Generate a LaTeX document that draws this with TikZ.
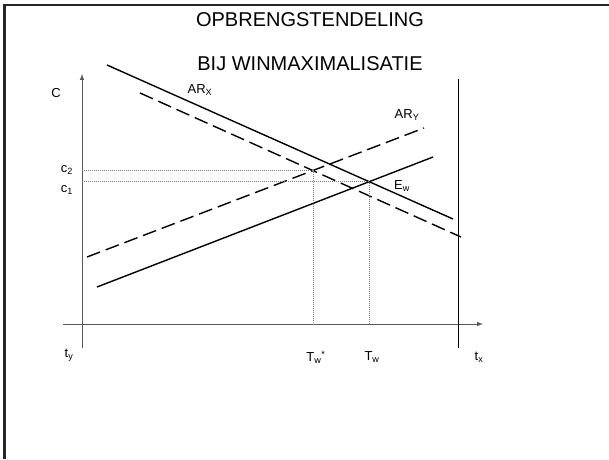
\documentclass[tikz,border=0pt]{standalone}
\usepackage{fontspec}
\setmainfont{Liberation Sans}
\begin{document}
\begin{tikzpicture}[
  x=1pt, y=-1pt,
  ttl/.style={font=\fontsize{20}{22}\selectfont, inner sep=0pt},
  lbl/.style={font=\fontsize{13}{15}\selectfont, inner sep=0pt},
  axis/.style={-latex, gray!70!black, line width=1pt},
  curve/.style={black, line width=1.4pt},
  dcurve/.style={black, line width=1.4pt, dash pattern=on 14pt off 6pt},
  guide/.style={gray, line width=0.6pt, dash pattern=on 1pt off 1pt},
]
\useasboundingbox (0,0) rectangle (609,459);

% ---- Frame -----------------------------------------------------------------
\draw[line width=2.5pt, black!85] (4.7,459) -- (4.7,5) -- (609,5);

% ---- Title -----------------------------------------------------------------
\node[ttl] (title1) at (310,20) {OPBRENGSTENDELING};
\node[ttl] (title2) at (310,64) {BIJ WINMAXIMALISATIE};

% ---- Axes ------------------------------------------------------------------
\coordinate (ybot) at (82,348);
\coordinate (ytop) at (82,74);
\coordinate (xlft) at (63,324);
\coordinate (xrgt) at (483,324);
\draw[axis] (ybot) -- (ytop);
\draw[axis] (xlft) -- (xrgt);

\coordinate (rtop) at (458,79);
\coordinate (rbot) at (458,348);
\draw[black, line width=1pt] (rtop) -- (rbot);

% ---- AR lines --------------------------------------------------------------
\coordinate (arx0) at (107,65);
\coordinate (arx1) at (453,219);
\coordinate (dax0) at (140,93);
\coordinate (dax1) at (461,237);
\coordinate (ary0) at (97,287);
\coordinate (ary1) at (433,157);
\coordinate (day0) at (87,257);
\coordinate (day1) at (424,128);

\draw[curve] (arx0) -- (arx1);
\draw[dcurve] (dax0) -- (dax1);
\draw[curve] (ary0) -- (ary1);
\draw[dcurve] (day0) -- (day1);

% ---- Equilibria ------------------------------------------------------------
\coordinate (Ew) at (intersection of arx0--arx1 and ary0--ary1);
\coordinate (Ews) at (intersection of dax0--dax1 and day0--day1);
\draw[guide] (Ews -| ybot) -- (Ews) -- (Ews |- xlft);
\draw[guide] (Ew -| ybot) -- (Ew) -- (Ew |- xlft);

% ---- Labels ----------------------------------------------------------------
\node[lbl] (lC) at (56,93) {C};
\node[lbl] (lc2) at (67,170) {c\textsubscript{2}};
\node[lbl] (lc1) at (67,190) {c\textsubscript{1}};
\node[lbl] (lARX) at (200,90) {AR\textsubscript{X}};
\node[lbl] (lARY) at (407,115) {AR\textsubscript{Y}};
\node[lbl] (lEw) at (402,186) {E\textsubscript{w}};
\node[lbl] (lty) at (69,355) {t\textsubscript{y}};
\node[lbl] (lTws) at (316,357) {T\textsubscript{w}\textsuperscript{*}};
\node[lbl] (lTw) at (372,357) {T\textsubscript{w}};
\node[lbl] (ltx) at (479,357) {t\textsubscript{x}};

\end{tikzpicture}
\end{document}
